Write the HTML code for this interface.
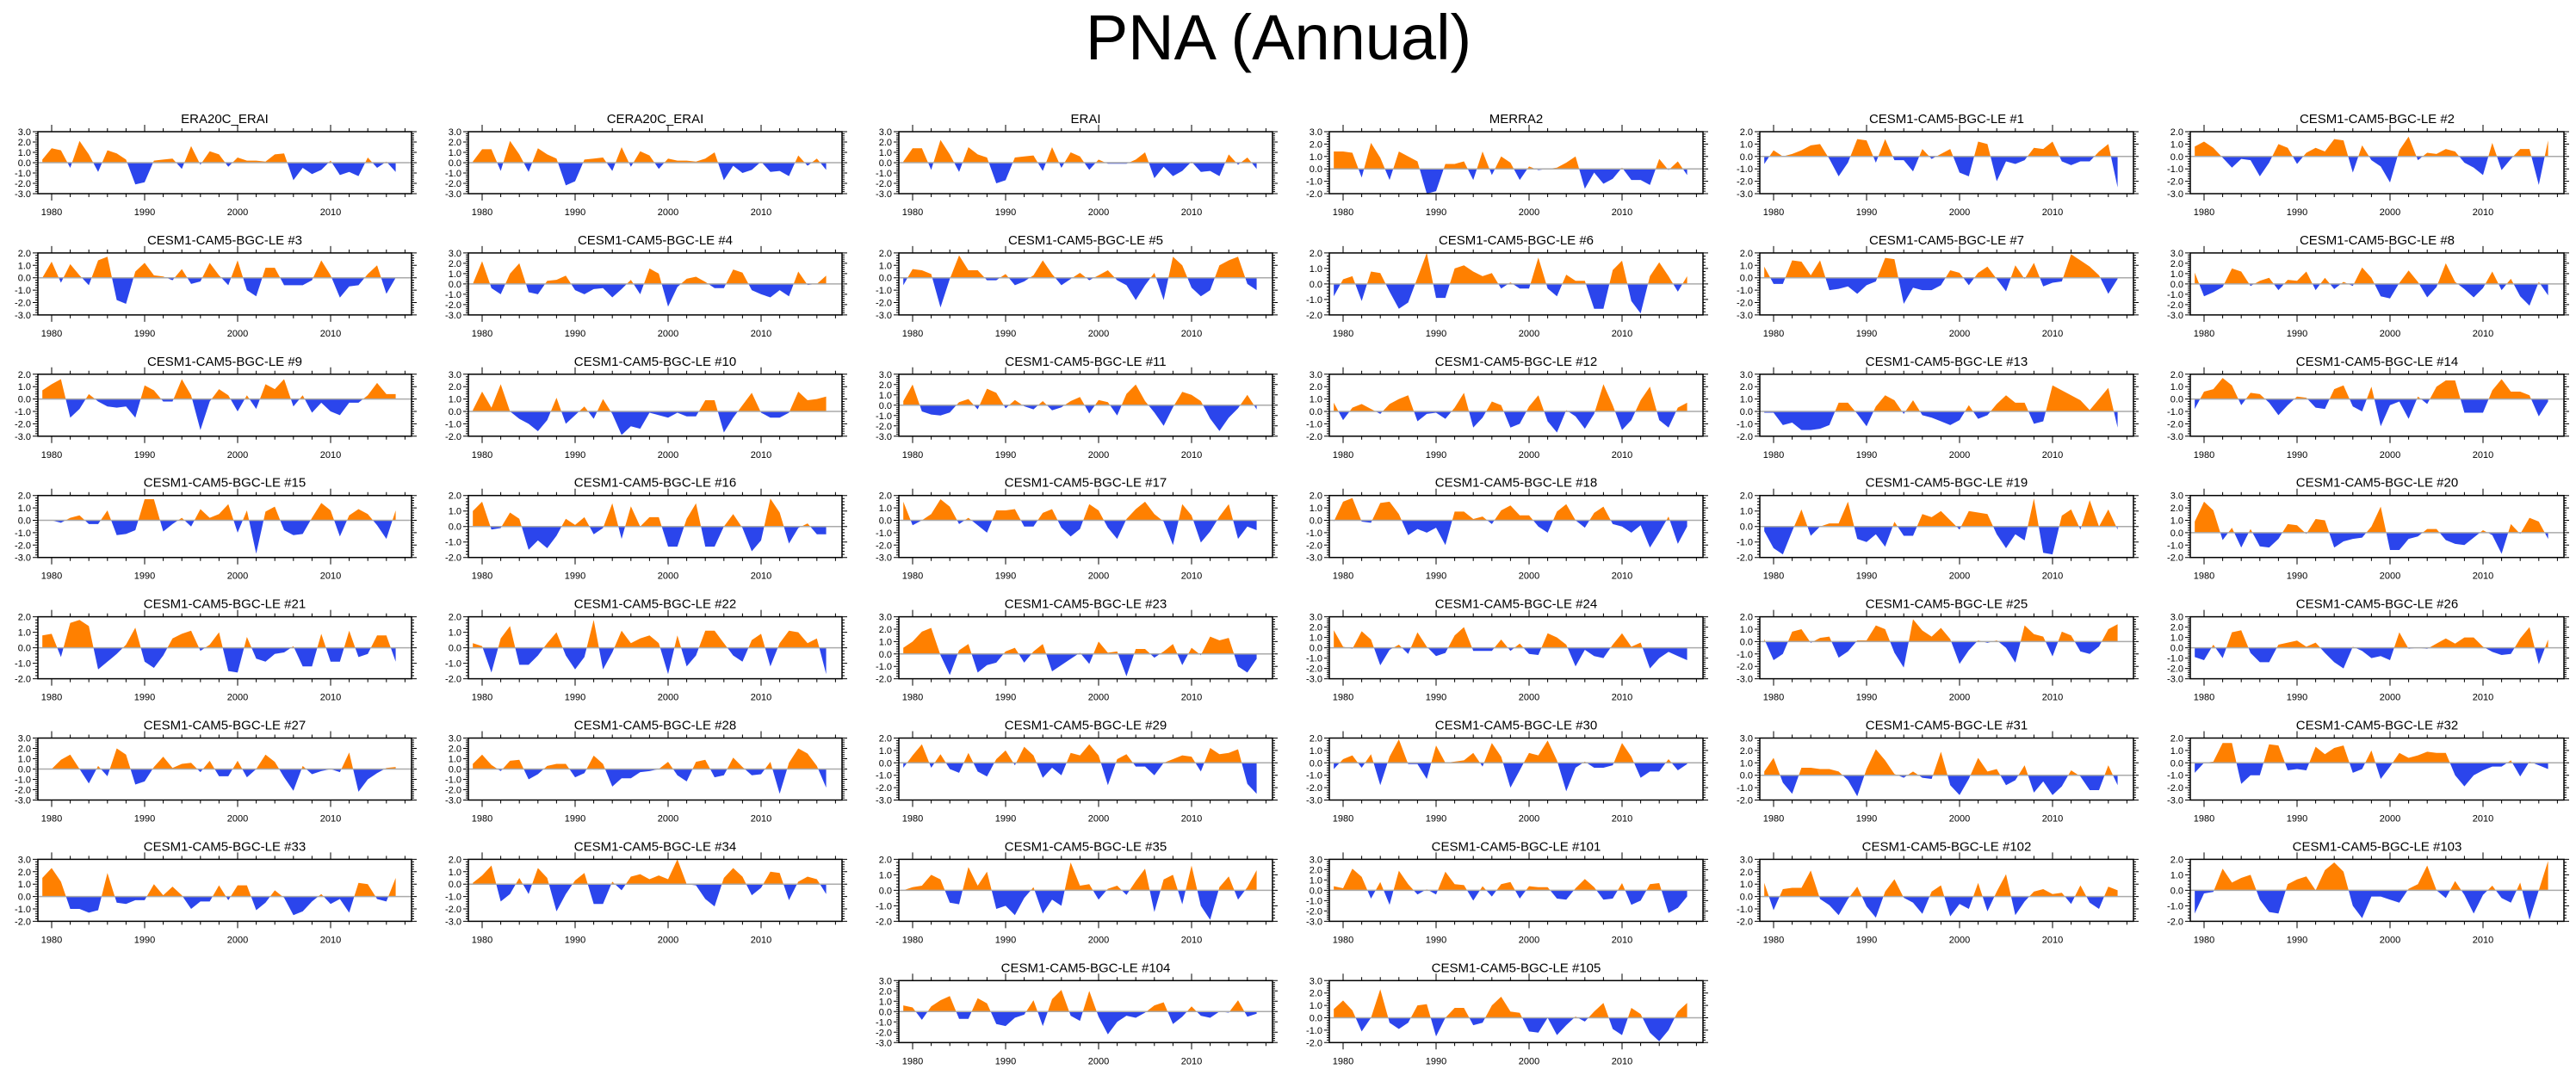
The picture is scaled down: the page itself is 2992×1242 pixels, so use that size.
<!DOCTYPE html>
<html><head><meta charset="utf-8">
<style>
html,body{margin:0;padding:0;background:#fff;}
svg{display:block;font-family:"Liberation Sans",sans-serif;}
</style></head>
<body>
<svg id="fig" width="2992" height="1242" viewBox="0 0 2992 1242" xmlns="http://www.w3.org/2000/svg">
<text x="1485" y="69" font-size="74" text-anchor="middle" fill="#000">PNA (Annual)</text>
</svg>
<script>
const startYear = 1979;
const titles = ["ERA20C_ERAI","CERA20C_ERAI","ERAI","MERRA2","CESM1-CAM5-BGC-LE #1","CESM1-CAM5-BGC-LE #2",
"CESM1-CAM5-BGC-LE #3","CESM1-CAM5-BGC-LE #4","CESM1-CAM5-BGC-LE #5","CESM1-CAM5-BGC-LE #6","CESM1-CAM5-BGC-LE #7","CESM1-CAM5-BGC-LE #8",
"CESM1-CAM5-BGC-LE #9","CESM1-CAM5-BGC-LE #10","CESM1-CAM5-BGC-LE #11","CESM1-CAM5-BGC-LE #12","CESM1-CAM5-BGC-LE #13","CESM1-CAM5-BGC-LE #14",
"CESM1-CAM5-BGC-LE #15","CESM1-CAM5-BGC-LE #16","CESM1-CAM5-BGC-LE #17","CESM1-CAM5-BGC-LE #18","CESM1-CAM5-BGC-LE #19","CESM1-CAM5-BGC-LE #20",
"CESM1-CAM5-BGC-LE #21","CESM1-CAM5-BGC-LE #22","CESM1-CAM5-BGC-LE #23","CESM1-CAM5-BGC-LE #24","CESM1-CAM5-BGC-LE #25","CESM1-CAM5-BGC-LE #26",
"CESM1-CAM5-BGC-LE #27","CESM1-CAM5-BGC-LE #28","CESM1-CAM5-BGC-LE #29","CESM1-CAM5-BGC-LE #30","CESM1-CAM5-BGC-LE #31","CESM1-CAM5-BGC-LE #32",
"CESM1-CAM5-BGC-LE #33","CESM1-CAM5-BGC-LE #34","CESM1-CAM5-BGC-LE #35","CESM1-CAM5-BGC-LE #101","CESM1-CAM5-BGC-LE #102","CESM1-CAM5-BGC-LE #103",
"CESM1-CAM5-BGC-LE #104","CESM1-CAM5-BGC-LE #105"];
const yTops = [3,3,3,3,2,2, 2,3,2,2,2,3, 2,3,3,3,3,2, 2,2,2,2,2,3, 2,2,3,3,2,3, 3,3,2,2,3,2, 3,2,2,3,3,2, 3,3];
const yBottoms = [-3,-3,-3,-2,-3,-3, -3,-3,-3,-2,-3,-3, -3,-2,-3,-2,-2,-3, -3,-2,-3,-3,-2,-2, -2,-2,-2,-3,-3,-3, -3,-3,-3,-3,-2,-3, -2,-3,-2,-3,-2,-2, -3,-2];
const xTickLabels = [1980,1990,2000,2010];

const s00=[0.3,1.4,1.2,-0.5,2.1,0.8,-0.9,1.2,0.9,0.3,-2.1,-1.9,0.2,0.3,0.4,-0.6,1.6,-0.2,1.1,0.8,-0.4,0.5,0.2,0.2,0.1,0.8,0.9,-1.7,-0.5,-1.1,-0.7,0.2,-1.2,-0.9,-1.3,0.5,-0.5,0.1,-0.9];
const s01=[0.1,1.3,1.3,-0.8,2.1,0.8,-0.9,1.4,0.8,0.4,-2.2,-1.8,0.3,0.4,0.5,-0.8,1.5,-0.4,1.1,0.7,-0.6,0.4,0.2,0.2,0.1,0.4,1.0,-1.7,-0.3,-1.0,-0.7,0.1,-0.9,-0.8,-1.3,0.7,-0.3,0.4,-0.7];
const s02=[0.1,1.4,1.4,-0.7,2.2,0.8,-0.9,1.5,0.8,0.5,-2.0,-1.7,0.5,0.6,0.7,-0.8,1.5,-0.5,1.0,0.6,-0.7,0.3,-0.1,-0.1,-0.1,0.3,1.0,-1.5,-0.4,-1.3,-0.8,0.1,-0.9,-0.8,-1.3,0.8,-0.2,0.5,-0.6];
const s03=[1.4,1.4,1.3,-0.7,2.1,0.9,-0.9,1.4,1.0,0.6,-2.0,-1.8,0.4,0.4,0.6,-0.9,1.4,-0.5,1.0,0.5,-0.9,0.2,-0.1,0.0,0.1,0.5,1.0,-1.6,-0.3,-1.2,-0.8,0.1,-0.9,-0.9,-1.3,0.8,-0.1,0.6,-0.5];
const s04=[-0.6,0.5,0.0,0.2,0.5,0.9,1.0,-0.2,-1.6,-0.5,1.4,1.3,-0.5,1.4,-0.3,-0.3,-1.2,0.6,-0.2,0.2,0.6,-1.3,-1.6,1.2,1.0,-2.0,-0.4,-0.6,-0.3,0.7,0.6,1.2,-0.4,-0.7,-0.4,-0.4,0.4,1.0,-2.5];
const s05=[0.8,1.2,0.7,-0.1,-0.9,-0.2,-0.3,-1.6,-0.5,1.0,0.7,-0.6,0.3,0.7,0.4,1.4,1.3,-1.3,0.9,-0.3,-0.8,-2.1,0.5,1.6,-0.3,0.3,0.2,0.6,0.4,-0.5,-0.9,-1.5,1.1,-1.1,-0.2,0.6,0.6,-2.3,1.3];
const s06=[0.0,1.3,-0.4,1.1,0.2,-0.6,1.4,1.7,-1.8,-2.1,0.5,1.2,0.2,0.1,-0.2,0.7,-0.5,-0.3,1.2,0.2,-0.6,1.4,-1.0,-1.5,0.8,0.8,-0.6,-0.6,-0.6,-0.2,1.4,0.2,-1.6,-0.7,-0.6,0.3,1.0,-1.3,0.0];
const s07=[0.0,2.2,-0.4,-1.0,1.0,2.0,-0.8,-1.0,0.3,0.4,0.8,-0.6,-1.0,-0.5,-0.4,-1.3,-0.5,0.4,-1.0,1.5,1.0,-2.2,-0.3,0.5,0.7,0.2,-0.4,-0.4,1.4,1.1,-0.6,-1.0,-1.3,-0.6,-1.2,1.2,-0.1,0.0,0.8];
const s08=[-0.6,0.7,0.6,0.3,-2.4,-0.1,1.8,0.6,0.6,-0.2,-0.2,0.3,-0.6,-0.3,0.2,1.4,0.3,-0.6,-0.1,0.4,-0.2,0.2,0.6,-0.2,-0.6,-1.8,-0.6,0.4,-1.8,1.7,1.0,-0.8,-1.5,-1.0,1.0,1.4,1.7,-0.5,-1.0];
const s09=[-0.8,0.3,0.5,-1.1,0.8,0.7,-0.5,-1.6,-1.2,0.4,2.0,-0.9,-0.9,1.0,1.2,0.8,0.5,0.7,-0.3,0.1,-0.3,-0.3,1.7,-0.3,-0.8,0.6,0.2,0.2,-1.6,-1.6,0.9,1.5,-1.1,-1.9,0.5,1.4,0.5,-0.5,0.5];
const s10=[0.9,-0.5,-0.5,1.4,1.3,0.2,1.4,-1.0,-0.9,-0.7,-1.3,-0.6,-0.3,1.6,1.5,-2.1,-0.8,-1.0,-1.0,-0.6,0.6,0.4,-0.6,0.4,0.9,-0.1,-1.1,1.0,-0.1,1.2,-0.7,-0.4,-0.3,1.9,1.4,0.9,0.2,-1.3,-0.1];
const s11=[1.1,-1.2,-0.8,-0.3,1.5,1.2,-0.2,0.3,0.6,-0.6,0.4,0.3,1.2,-0.6,0.6,-0.5,0.2,-0.2,1.6,0.6,-1.2,-1.4,0.1,1.3,0.2,-1.3,-0.3,2.0,0.2,-0.5,-1.3,-0.4,1.2,-0.6,0.5,-1.2,-2.1,0.2,-1.1];
const s12=[0.7,1.2,1.6,-1.5,-0.8,0.4,-0.2,-0.6,-0.7,-0.6,-1.5,1.1,0.7,-0.2,-0.2,1.6,0.3,-2.5,-0.2,0.8,0.3,-1.0,0.3,-0.8,1.2,0.8,1.6,-0.6,0.3,-1.1,-0.3,-1.0,-1.3,-0.3,-0.3,0.3,1.3,0.4,0.4];
const s13=[0.1,1.6,0.3,2.2,0.0,-0.6,-1.0,-1.6,-0.7,1.1,-1.0,-0.3,0.4,-0.6,1.0,-0.2,-1.9,-1.2,-1.4,-0.1,-0.3,-0.5,-0.1,-0.4,-0.4,0.9,0.9,-1.7,-0.5,0.5,1.5,-0.1,-0.5,-0.5,-0.1,1.6,0.9,1.0,1.2];
const s14=[0.4,2.0,-0.6,-0.9,-1.0,-0.7,0.3,0.6,-0.4,1.6,1.2,-0.3,0.5,-0.1,-0.4,0.4,-0.5,-0.2,0.4,0.8,-0.8,0.5,0.3,-1.0,1.1,2.0,0.4,-0.7,-2.0,-0.2,1.3,1.0,0.4,-1.3,-2.5,-1.2,-0.3,1.0,-0.4];
const s15=[0.7,-0.7,0.3,0.6,0.2,-0.2,0.6,1.0,1.3,-0.8,-0.2,-0.1,-0.6,0.3,1.5,-1.3,-0.5,0.8,0.5,-1.3,-1.0,0.4,1.3,-0.8,-1.7,0.1,-0.4,-1.4,-0.2,2.2,0.5,-1.5,-0.7,0.9,2.0,-0.7,-1.3,0.3,0.7];
const s16=[-0.1,-0.1,-1.1,-0.9,-1.5,-1.5,-1.4,-1.1,0.7,0.7,-0.2,-1.2,0.4,1.3,0.9,-0.2,0.9,-0.3,-0.5,-0.8,-1.1,-0.7,0.5,-0.6,-0.3,0.6,1.3,0.7,0.7,-1.0,-0.8,2.1,1.7,1.3,0.9,0.1,1.0,1.9,-1.3];
const s17=[-0.8,0.6,0.8,1.7,1.1,-0.5,0.5,0.4,-0.3,-1.3,-0.5,0.2,0.1,-0.7,-0.8,0.8,1.1,-0.6,-1.0,1.0,-2.2,-0.5,-0.2,-1.6,0.2,-0.4,1.0,1.5,1.5,-1.1,-1.1,-1.1,0.7,1.6,0.6,0.6,0.3,-1.4,-0.2];
const s18=[0.0,0.0,-0.2,0.2,0.4,-0.3,-0.3,0.8,-1.2,-1.1,-0.8,1.7,1.7,-0.9,-0.3,0.2,-0.5,0.9,0.2,0.5,1.3,-1.0,0.8,-2.7,0.7,1.1,-0.8,-1.2,-1.1,0.2,1.4,0.8,-1.3,0.4,0.9,0.5,-0.4,-1.5,0.8];
const s19=[1.0,1.6,-0.2,-0.1,0.9,0.5,-1.5,-0.9,-1.4,-0.6,0.5,0.1,0.6,-0.5,-0.1,1.5,-0.8,1.3,0.0,0.6,0.6,-1.3,-1.3,0.5,1.5,-1.3,-1.3,0.0,0.8,-0.1,-1.6,-0.9,1.8,0.9,-1.1,-0.1,0.2,-0.5,-0.5];
const s20=[1.5,-0.4,0.0,0.5,1.7,1.1,-0.3,0.2,-0.4,-1.0,0.8,0.8,0.9,-0.5,-0.5,0.6,0.9,-0.6,-1.3,-0.7,1.3,0.8,-0.6,-1.5,0.1,0.9,1.5,0.5,-0.1,-2.0,1.3,0.4,-1.8,-0.9,0.3,1.3,-1.5,-0.5,-0.8];
const s21=[-0.1,1.5,1.8,-0.1,-0.2,1.4,1.5,0.5,-1.2,-0.7,-1.0,-0.6,-2.0,0.7,0.7,0.1,0.3,-0.3,0.8,1.2,0.4,0.4,-0.5,-1.0,0.7,1.3,0.0,-0.6,0.6,1.1,-0.3,-0.5,-1.0,-0.4,-2.2,-1.0,0.3,-1.9,-0.5];
const s22=[-0.3,-1.4,-1.8,-0.3,1.1,-0.6,0.0,0.2,0.2,1.6,-0.8,-1.0,-0.5,-1.3,0.3,-0.6,-0.6,0.8,0.6,1.0,0.4,-0.2,1.0,0.9,0.8,-0.5,-1.4,-0.5,-0.9,1.8,-1.7,-1.8,0.7,1.1,-0.2,1.7,0.0,1.1,-0.2];
const s23=[0.9,2.5,1.8,-0.6,0.4,-1.2,0.3,-1.1,-1.2,-0.5,0.7,0.6,-0.1,1.1,1.0,-1.2,-0.7,-0.5,-0.4,0.5,2.1,-1.4,-1.4,-0.5,-0.3,0.3,0.3,-0.6,-0.9,-1.0,-0.4,0.2,-0.2,-1.7,0.7,-0.1,1.2,0.9,-0.5];
const s24=[0.8,0.9,-0.6,1.6,1.8,1.4,-1.4,-0.9,-0.4,0.2,1.3,-0.9,-1.3,-0.5,0.6,0.9,1.1,-0.2,0.2,1.0,-1.5,-1.6,0.7,-0.7,-0.9,-0.4,-0.3,0.1,-1.2,-1.2,0.9,-0.9,-0.9,1.1,-0.6,-0.4,0.8,0.8,-0.9];
const s25=[0.3,0.1,-1.6,0.6,1.4,-1.1,-1.1,-0.5,0.3,1.0,-0.5,-1.4,-0.6,1.8,-1.4,-0.3,1.1,0.3,0.6,0.8,0.3,-1.7,0.8,-1.2,-0.5,1.1,1.1,0.3,-0.5,-0.9,0.5,0.9,-1.2,0.3,1.1,1.0,0.3,0.6,-1.7];
const s26=[0.5,1.0,1.8,2.1,-0.1,-1.7,0.3,0.8,-1.5,-0.9,-0.7,0.2,0.5,-0.7,0.2,0.8,-1.4,-0.9,-0.4,0.1,-0.8,1.0,0.1,0.2,-1.8,0.4,0.4,-0.3,0.2,0.8,-0.9,0.5,-0.1,1.4,1.1,1.3,-1.0,-1.5,-0.4];
const s27=[1.7,0.1,-0.1,1.6,0.8,-1.7,-0.2,0.3,-0.6,1.5,0.1,-0.8,-0.5,1.2,2.0,-0.3,-0.3,-0.3,0.8,-0.3,0.4,-0.6,-0.7,1.4,1.0,0.3,-1.8,-0.2,-0.8,-1.0,0.3,1.4,0.1,0.5,-2.0,-1.0,-0.4,-0.8,-1.2];
const s28=[0.2,-1.5,-1.0,0.8,1.0,-0.1,0.3,0.4,-1.3,-0.8,0.1,0.1,1.3,1.0,-0.9,-2.1,1.8,0.9,0.4,1.1,0.2,-1.8,-0.7,0.1,-0.1,0.1,-0.5,-1.7,1.3,0.6,0.4,-1.2,0.8,0.5,-0.8,-1.0,-0.4,1.0,1.4];
const s29=[-0.9,-1.2,0.3,-1.0,1.5,1.7,-0.5,-1.4,-1.4,0.3,0.5,0.7,0.1,0.5,-0.5,-1.4,-2.0,0.1,-0.3,-1.0,-0.8,-1.2,1.5,-0.1,0.0,-0.1,0.4,0.9,0.4,1.0,1.0,0.1,-0.4,-0.7,-0.6,0.9,2.0,-1.6,0.8];
const s30=[0.0,0.0,0.9,1.4,0.0,-1.4,0.3,-0.7,2.0,1.4,-1.5,-1.2,0.2,1.2,0.1,0.5,0.6,-0.3,0.8,-0.7,-0.7,0.8,-0.8,0.0,1.4,0.7,-0.8,-2.1,0.3,-0.5,-0.2,0.0,-0.3,1.6,-2.2,-1.0,-0.4,0.1,0.2];
const s31=[0.5,1.4,0.4,-0.2,0.8,0.9,-1.0,-0.5,0.3,0.5,0.5,-0.8,-0.4,1.3,0.5,-1.7,-0.9,-0.9,-0.3,-0.2,0.0,0.7,-0.6,-1.2,0.7,0.9,-0.8,-0.6,1.1,0.2,-0.6,-0.5,0.7,-2.4,0.6,2.0,1.5,0.3,-1.8];
const s32=[-0.4,0.6,1.5,-0.4,0.7,-0.5,-0.8,0.8,-0.7,-1.1,0.3,1.0,-0.2,1.3,0.6,-1.2,-0.4,-1.0,0.8,0.6,1.5,0.6,-1.8,0.3,0.7,-0.3,-0.3,-1.0,0.0,0.3,0.6,0.5,-0.7,1.2,0.7,0.8,1.1,-1.7,-2.5];
const s33=[-0.5,0.3,0.6,-0.4,0.7,-1.8,0.5,1.9,-0.1,-0.1,-1.3,1.4,0.0,0.1,0.2,0.8,-0.3,1.6,0.5,-2.0,-0.6,0.8,0.6,1.8,0.2,-2.3,-0.4,0.1,-0.4,-0.4,-0.2,1.6,0.5,-1.2,-0.7,-0.7,0.3,-0.6,-0.1];
const s34=[0.3,1.4,-0.6,-1.5,0.6,0.6,0.5,0.5,0.3,-0.4,-1.7,0.5,2.1,1.2,0.1,-0.2,0.3,-0.2,-0.3,1.9,-0.8,-1.6,-0.3,1.4,0.3,0.5,-0.8,-0.4,0.8,-1.4,-0.5,-1.6,-0.9,0.4,-0.1,-1.2,-1.2,0.8,-0.8];
const s35=[-0.8,0.0,0.1,1.6,1.6,-1.7,-1.0,-1.0,1.5,1.4,-0.6,-0.5,-0.6,1.3,0.7,1.2,1.4,-0.8,-0.5,1.0,-1.3,-0.3,0.8,0.4,0.6,0.9,0.8,0.8,-1.0,-1.9,-1.0,-0.6,-0.3,-0.3,0.2,-1.1,0.1,-0.2,-0.5];
const s36=[1.5,2.3,1.2,-1.0,-1.0,-1.3,-1.1,1.9,-0.5,-0.6,-0.3,-0.3,1.0,0.1,0.8,0.1,-1.0,-0.4,-0.4,0.9,-0.3,0.9,0.9,-1.1,-0.5,0.5,-0.1,-1.5,-1.2,-0.4,0.2,-0.6,-0.2,-1.3,1.1,1.0,-0.2,-0.4,1.5];
const s37=[0.1,0.7,1.5,-1.4,-0.8,0.5,-0.8,1.3,0.5,-2.2,-0.8,0.3,0.9,-1.6,-1.6,0.2,-0.5,0.6,0.8,0.4,0.7,0.4,2.0,0.0,-0.1,-1.2,-1.8,0.5,1.3,0.6,-0.9,-0.3,1.0,0.9,-1.3,0.2,0.6,0.4,-0.8];
const s38=[0.0,0.2,0.3,1.0,0.7,-0.8,-0.9,1.5,0.3,1.2,-1.2,-1.0,-1.6,-0.5,0.2,-1.5,-0.6,-1.0,1.8,0.3,0.4,-0.6,0.1,0.3,-0.3,0.6,1.4,-1.4,0.7,1.0,-0.9,1.6,-1.0,-1.9,0.2,0.9,-0.6,0.2,1.3];
const s39=[0.4,0.2,2.1,1.3,-0.8,0.8,-1.4,1.9,0.6,-0.4,0.1,-0.4,1.8,0.6,0.5,-1.0,0.4,-0.6,0.6,0.8,-0.8,0.4,0.3,0.3,-0.8,-0.9,0.2,1.1,0.3,-0.9,-0.8,0.7,-1.4,-1.0,0.6,0.7,-2.2,-1.7,-0.6];
const s40=[1.1,-1.1,0.6,0.7,0.7,2.1,-0.2,-0.7,-1.5,-0.2,0.8,-0.8,-1.7,0.4,1.4,-0.1,-0.5,-1.4,0.4,0.9,-1.6,-0.6,-1.0,1.1,-1.2,0.4,1.8,-1.5,-0.4,0.4,0.6,0.2,0.3,-0.6,0.9,-0.5,-1.0,0.8,0.5];
const s41=[-1.5,-0.2,-0.1,1.4,0.5,0.8,1.0,-0.6,-1.4,-1.5,0.4,0.7,0.9,0.0,1.3,1.8,1.2,-1.0,-1.8,-0.4,-0.4,-0.6,-0.8,0.1,0.4,1.6,0.0,-0.5,0.6,-0.3,-1.5,-0.3,0.3,-0.5,-0.8,0.5,-1.9,0.0,1.9];
const s42=[0.6,0.4,-0.8,0.5,1.1,1.5,-0.7,-0.7,1.3,0.8,-1.2,-1.4,-0.6,-0.3,1.1,-1.4,1.2,2.1,-0.4,-0.9,2.0,-0.5,-2.2,-1.0,-0.4,-0.6,-0.1,0.6,0.9,-1.2,-0.5,0.5,-0.4,-0.6,0.0,-0.1,1.1,-0.5,-0.2];
const s43=[0.7,1.4,0.6,-1.1,0.0,2.3,-0.4,-0.9,-0.4,1.0,1.1,-1.5,0.0,0.8,0.8,-0.6,-0.4,1.0,1.7,0.5,0.4,-1.1,-1.2,0.0,-1.4,-0.6,0.1,-0.3,0.5,1.2,-0.9,-1.4,0.8,0.3,-1.2,-1.9,-1.0,0.5,1.2];
const allSeries=[s00,s01,s02,s03,s04,s05,s06,s07,s08,s09,s10,s11,s12,s13,s14,s15,s16,s17,s18,s19,s20,s21,s22,s23,s24,s25,s26,s27,s28,s29,s30,s31,s32,s33,s34,s35,s36,s37,s38,s39,s40,s41,s42,s43];

const NS="http://www.w3.org/2000/svg";
const svg=document.getElementById('fig');
const PW=434, PH=72, PX0=44, PXSTEP=500, PY0=153, PYSTEP=140.9;
const X0YEAR=1978.52, PPY=10.8;
function mk(tag, attrs, parent){const e=document.createElementNS(NS,tag);for(const k in attrs)e.setAttribute(k,attrs[k]);parent.appendChild(e);return e;}

allSeries.forEach((vals,i)=>{
  let r, c;
  if(i<42){r=Math.floor(i/6);c=i%6;} else {r=7;c=2+(i-42);}
  const L=PX0+c*PXSTEP, T=PY0+r*PYSTEP, B=T+PH, R=L+PW;
  const yMax=yTops[i], yMin=yBottoms[i];
  const xs=yr=>L+(yr-X0YEAR)*PPY;
  const ys=v=>T+(yMax-v)/(yMax-yMin)*PH;
  const g=mk('g',{},svg);
  
  
  const t=mk('text',{x:(L+R)/2,y:T-10,'font-size':15,'text-anchor':'middle',fill:'#000'},g);
  t.textContent=titles[i];
  
  
  // clip paths
  const cu='cu'+i, cd='cd'+i, z=ys(0);
  const defs=mk('defs',{},g);
  const c1=mk('clipPath',{id:cu},defs); mk('rect',{x:L,y:T,width:PW,height:z-T},c1);
  const c2=mk('clipPath',{id:cd},defs); mk('rect',{x:L,y:z,width:PW,height:B-z},c2);
  let d='M'+xs(startYear).toFixed(2)+','+z.toFixed(2);
  vals.forEach((v,k)=>{d+=' L'+xs(startYear+k).toFixed(2)+','+ys(v).toFixed(2);});
  d+=' L'+xs(startYear+vals.length-1).toFixed(2)+','+z.toFixed(2)+' Z';
  const pos=mk('path',{d:d,fill:'#ff8000','clip-path':'url(#'+cu+')'},g);
  
  
  const neg=mk('path',{d:d,fill:'#2b45ec','clip-path':'url(#'+cd+')'},g);
  
  
  const zl=mk('line',{x1:L,x2:R,y1:z,y2:z,stroke:'#aaa','stroke-width':1.5},g);
  
  
  const fr=mk('rect',{x:L,y:T,width:PW,height:PH,fill:'none',stroke:'#000','stroke-width':1.5},g);
  
  
  // x ticks
  let tk='';
  for(let yr=1980;yr<=2018;yr+=2){
    const x=xs(yr), len=(yr%10===0)?8:4;
    tk+='M'+x.toFixed(1)+','+T+'v'+(-len)+'M'+x.toFixed(1)+','+B+'v'+len;
  }
  for(let v=yMin;v<=yMax+1e-6;v+=0.2){
    const y=ys(v), maj=Math.abs(v-Math.round(v))<1e-6, len=maj?6:3;
    tk+='M'+L+','+y.toFixed(1)+'h'+(-len)+'M'+R+','+y.toFixed(1)+'h'+len;
  }
  const ticks=mk('path',{d:tk,stroke:'#000','stroke-width':1,fill:'none'},g);
  
  
  xTickLabels.forEach(yr=>{
    const lb=mk('text',{x:xs(yr),y:B+25,'font-size':11,'text-anchor':'middle',fill:'#000'},g);
    lb.textContent=yr;
    
    
  });
  for(let v=yMax;v>=yMin;v--){
    const lb=mk('text',{x:L-8,y:ys(v)+4,'font-size':11,'text-anchor':'end',fill:'#000'},g);
    lb.textContent=v.toFixed(1);
    
    
  }
});
</script>
</body></html>
